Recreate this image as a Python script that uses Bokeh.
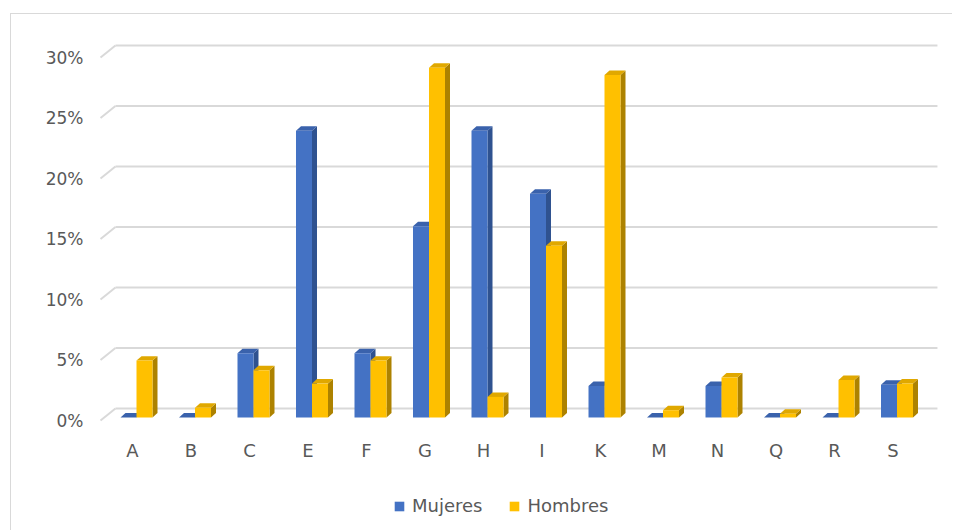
import numpy as np
from bokeh.plotting import figure
from bokeh.models import (ColumnDataSource, FixedTicker, PrintfTickFormatter,
                          Legend, LegendItem, Range1d)
from bokeh.embed import file_html
from bokeh.resources import INLINE

# ---------------- data ----------------
categories = ["A", "B", "C", "E", "F", "G", "H", "I", "K", "M", "N", "Q", "R", "S"]
mujeres = [0.0, 0.0, 5.3, 23.7, 5.3, 15.8, 23.7, 18.5, 2.6, 0.0, 2.6, 0.0, 0.0, 2.7]
hombres = [4.7, 0.8, 3.9, 2.8, 4.7, 28.9, 1.7, 14.2, 28.3, 0.6, 3.3, 0.3, 3.1, 2.8]
series_names = ["Mujeres", "Hombres"]
y_ticks = [0, 5, 10, 15, 20, 25, 30]

# ---------------- style / geometry (data units) ----------------
TXT = "#595959"
GRID = "#d9d9d9"
FONT = "DejaVu Sans"
BLUE = ("#4472C4", "#3A62AC", "#2F5290")     # front, top, side
GOLD = ("#FFC000", "#E0A800", "#AD8200")

BAR_W = 0.2735      # width of one bar front face
OFF0 = -0.205       # left edge of first bar relative to category centre
DX, DY = 0.0855, 0.37   # bar depth (3-D) offsets
BASE = 0.25         # bars stand slightly behind the front floor edge
GDX, GDY = 0.256, 0.99  # wall depth for gridlines
GX0, GX1 = -0.547, 13.76
X_AXIS_AT = -0.413  # where the category labels hang from

x = np.arange(len(categories), dtype=float)

p = figure(width=942, height=517, output_backend="svg", toolbar_location=None,
           x_range=Range1d(-0.581, 13.812), y_range=Range1d(-8.76, 31.736),
           min_border_left=87, min_border_right=13, min_border_top=22,
           min_border_bottom=5)
p.styles = {"margin-left": "10px", "margin-top": "13px",
            "border-left": "1px solid #d9d9d9", "border-top": "1px solid #d9d9d9"}
p.outline_line_color = None
p.xgrid.visible = False
p.ygrid.visible = False
p.background_fill_color = "white"
p.border_fill_color = "white"

# gridlines: back wall + slanted side-wall segment
gy = np.array(y_ticks, dtype=float)
p.segment(x0=[GX0 + GDX] * len(gy), y0=gy + GDY, x1=[GX1] * len(gy), y1=gy + GDY,
          line_color=GRID, line_width=2)
p.segment(x0=[GX0] * len(gy), y0=gy, x1=[GX0 + GDX] * len(gy), y1=gy + GDY,
          line_color=GRID, line_width=2)


def bars(values, k, cols):
    v = np.array(values, dtype=float)
    x0 = x + OFF0 + k * BAR_W
    x1 = x0 + BAR_W
    top = BASE + v
    side_xs = [[a, a + DX, a + DX, a] for a in x1]
    side_ys = [[BASE, BASE + DY, t + DY, t] for t in top]
    top_xs = [[a, b, b + DX, a + DX] for a, b in zip(x0, x1)]
    top_ys = [[t, t, t + DY, t + DY] for t in top]
    p.patches(side_xs, side_ys, fill_color=cols[2], line_color=None)
    p.patches(top_xs, top_ys, fill_color=cols[1], line_color=None)
    src = ColumnDataSource(dict(left=x0, right=x1, bottom=[BASE] * len(v), top=top))
    return p.quad(left="left", right="right", bottom="bottom", top="top", source=src,
                  fill_color=cols[0], line_color=None)


r1 = bars(mujeres, 0, BLUE)
r2 = bars(hombres, 1, GOLD)

# axes
p.xaxis.ticker = FixedTicker(ticks=list(x))
p.xaxis.major_label_overrides = {float(i): c for i, c in enumerate(categories)}
p.xaxis.fixed_location = X_AXIS_AT
p.yaxis.ticker = FixedTicker(ticks=y_ticks)
p.yaxis.formatter = PrintfTickFormatter(format="%d%%")
for ax in (p.xaxis[0], p.yaxis[0]):
    ax.axis_line_color = None
    ax.major_tick_line_color = None
    ax.minor_tick_line_color = None
    ax.major_tick_out = 0
    ax.major_tick_in = 0
    ax.major_label_text_color = TXT
    ax.major_label_text_font = FONT
p.xaxis.major_label_text_font_size = "18px"
p.yaxis.major_label_text_font_size = "17px"
p.xaxis.major_label_standoff = 14
p.yaxis.major_label_standoff = 15

legend = Legend(items=[LegendItem(label=series_names[0], renderers=[r1]),
                       LegendItem(label=series_names[1], renderers=[r2])],
                orientation="horizontal", location=(295, 10),
                glyph_width=12, glyph_height=12, label_standoff=7, spacing=26,
                padding=0, margin=0, border_line_color=None,
                background_fill_alpha=0,
                label_text_font=FONT, label_text_font_size="18px",
                label_text_color=TXT)
p.add_layout(legend, "center")

open("out.html", "w").write(file_html(p, INLINE))
